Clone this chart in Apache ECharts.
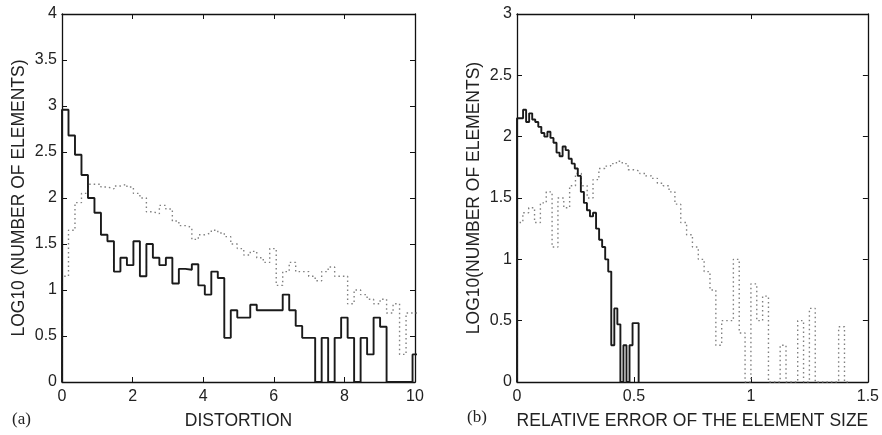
<!DOCTYPE html>
<html>
<head>
<meta charset="utf-8">
<script src="https://cdn.jsdelivr.net/npm/echarts@6/dist/echarts.min.js"></script>
<style>
  html, body { margin: 0; padding: 0; background: #ffffff; }
  #chart { width: 882px; height: 435px; }
</style>
</head>
<body>
<div id="chart"></div>
<script>
// ---------- DATA ----------
// (a) histogram of distortion, log10(count) per bin
const distortionBinWidth = 0.1839;
const distortionSolid = [2.96, 2.68, 2.47, 2.25, 2.0, 1.84, 1.6, 1.53, 1.2, 1.35, 1.27, 1.53, 1.15, 1.5, 1.35, 1.27, 1.35, 1.07, 1.23, 1.22, 1.28, 1.05, 0.95, 1.2, 1.13, 0.48, 0.78, 0.7, 0.7, 0.84, 0.78, 0.78, 0.78, 0.78, 0.95, 0.78, 0.61, 0.48, 0.48, 0, 0.48, 0, 0.48, 0.7, 0.48, 0, 0.48, 0.3, 0.7, 0.6, 0, 0, 0, 0, 0.3];
const distortionDotted = [1.15, 1.65, 1.95, 2.05, 2.15, 2.15, 2.12, 2.1, 2.13, 2.15, 2.12, 2.05, 2.0, 1.85, 1.83, 1.92, 1.88, 1.75, 1.7, 1.68, 1.55, 1.6, 1.62, 1.65, 1.62, 1.58, 1.5, 1.45, 1.38, 1.42, 1.35, 1.3, 1.45, 1.05, 1.2, 1.3, 1.2, 1.2, 1.15, 1.1, 1.2, 1.25, 1.15, 1.15, 0.85, 1.0, 0.95, 0.9, 0.85, 0.9, 0.75, 0.85, 0.3, 0.75, 0.75];

// (b) histogram of relative error of element size
const errorSolidBinWidth = 0.013;
const errorSolid = [2.15, 2.15, 2.22, 2.12, 2.19, 2.14, 2.12, 2.08, 2.03, 2.0, 2.04, 1.99, 1.95, 1.87, 1.84, 1.92, 1.89, 1.82, 1.78, 1.74, 1.68, 1.55, 1.46, 1.4, 1.35, 1.38, 1.25, 1.16, 1.1, 1.0, 0.9, 0.3, 0.6, 0.47, 0, 0.3, 0, 0.3, 0.48, 0.48];
const errorDottedBinWidth = 0.025;
const errorDotted = [1.3, 1.38, 1.42, 1.3, 1.46, 1.55, 1.1, 1.5, 1.42, 1.6, 1.7, 1.6, 1.5, 1.65, 1.74, 1.76, 1.78, 1.8, 1.78, 1.73, 1.72, 1.7, 1.68, 1.66, 1.62, 1.6, 1.55, 1.45, 1.3, 1.2, 1.1, 1.0, 0.9, 0.75, 0.3, 0.5, 0.5, 1.0, 0.4, 0, 0.8, 0.5, 0.7, 0, 0, 0.3, 0, 0, 0.5, 0, 0.6, 0, 0, 0, 0, 0.45, 0];

// Axis settings
const leftXTicks = { min: 0, max: 10, interval: 2 };
const leftYTicks = { min: 0, max: 4, interval: 0.5 };
const rightXTicks = { min: 0, max: 1.5, interval: 0.5 };
const rightYTicks = { min: 0, max: 3, interval: 0.5 };

// ---------- BUILD ----------
function stairs(vals, w) {
  const pts = [[0, 0]];
  vals.forEach((v, i) => pts.push([i * w, v]));
  const end = vals.length * w;
  pts.push([end, vals[vals.length - 1]]);
  pts.push([end, 0]);
  return pts;
}

const FONT = '"Liberation Sans", Arial, sans-serif';
const TXT = '#222';

function xAxis(gi, t, name, pos) {
  const top = pos === 'top';
  return {
    type: 'value', gridIndex: gi, position: pos, min: t.min, max: t.max, interval: t.interval,
    name: top ? '' : name, nameLocation: 'middle', nameGap: 30,
    nameTextStyle: { fontFamily: FONT, fontSize: 17.5, color: TXT },
    axisLine: { show: true, onZero: false, lineStyle: { color: '#111', width: 1.3 } },
    axisTick: { show: true, inside: true, length: 5, lineStyle: { color: '#111' } },
    axisLabel: { show: !top, fontFamily: FONT, fontSize: 16, color: TXT, margin: 7 },
    splitLine: { show: false }
  };
}
function yAxis(gi, t, name, pos) {
  const right = pos === 'right';
  return {
    type: 'value', gridIndex: gi, position: pos, min: t.min, max: t.max, interval: t.interval,
    name: right ? '' : name, nameLocation: 'middle', nameGap: 34,
    nameTextStyle: { fontFamily: FONT, fontSize: 17.5, color: TXT },
    axisLine: { show: true, onZero: false, lineStyle: { color: '#111', width: 1.3 } },
    axisTick: { show: true, inside: true, length: 5, lineStyle: { color: '#111' } },
    axisLabel: { show: !right, fontFamily: FONT, fontSize: 16, color: TXT, margin: 5 },
    splitLine: { show: false }
  };
}

function solid(data, xi, yi) {
  return { type: 'line', step: 'end', data, xAxisIndex: xi, yAxisIndex: yi, showSymbol: false, clip: true,
    lineStyle: { color: '#1a1a1a', width: 1.9 }, z: 3 };
}
function dotted(data, xi, yi) {
  return { type: 'line', step: 'end', data, xAxisIndex: xi, yAxisIndex: yi, showSymbol: false, clip: true,
    lineStyle: { color: '#808080', width: 1.4, type: [1.5, 3] }, z: 2 };
}

const chart = echarts.init(document.getElementById('chart'), null, { renderer: 'canvas' });
chart.setOption({
  animation: false,
  backgroundColor: '#ffffff',
  grid: [
    { left: 62, top: 14, width: 353, height: 369 },
    { left: 517, top: 14, width: 351, height: 369 }
  ],
  xAxis: [
    xAxis(0, leftXTicks, 'DISTORTION', 'bottom'),
    xAxis(0, leftXTicks, '', 'top'),
    xAxis(1, rightXTicks, 'RELATIVE ERROR OF THE ELEMENT SIZE', 'bottom'),
    xAxis(1, rightXTicks, '', 'top')
  ],
  yAxis: [
    yAxis(0, leftYTicks, 'LOG10 (NUMBER OF ELEMENTS)', 'left'),
    yAxis(0, leftYTicks, '', 'right'),
    yAxis(1, rightYTicks, 'LOG10(NUMBER OF ELEMENTS)', 'left'),
    yAxis(1, rightYTicks, '', 'right')
  ],
  series: [
    dotted(stairs(distortionDotted, distortionBinWidth), 0, 0),
    solid(stairs(distortionSolid, distortionBinWidth), 0, 0),
    dotted(stairs(errorDotted, errorDottedBinWidth), 2, 2),
    solid(stairs(errorSolid, errorSolidBinWidth), 2, 2)
  ],
  graphic: [
    { type: 'text', left: 12, top: 411, style: { text: '(a)', font: '17px "Liberation Serif", serif', fill: TXT } },
    { type: 'text', left: 467, top: 409, style: { text: '(b)', font: '17px "Liberation Serif", serif', fill: TXT } }
  ]
});
</script>
</body>
</html>
